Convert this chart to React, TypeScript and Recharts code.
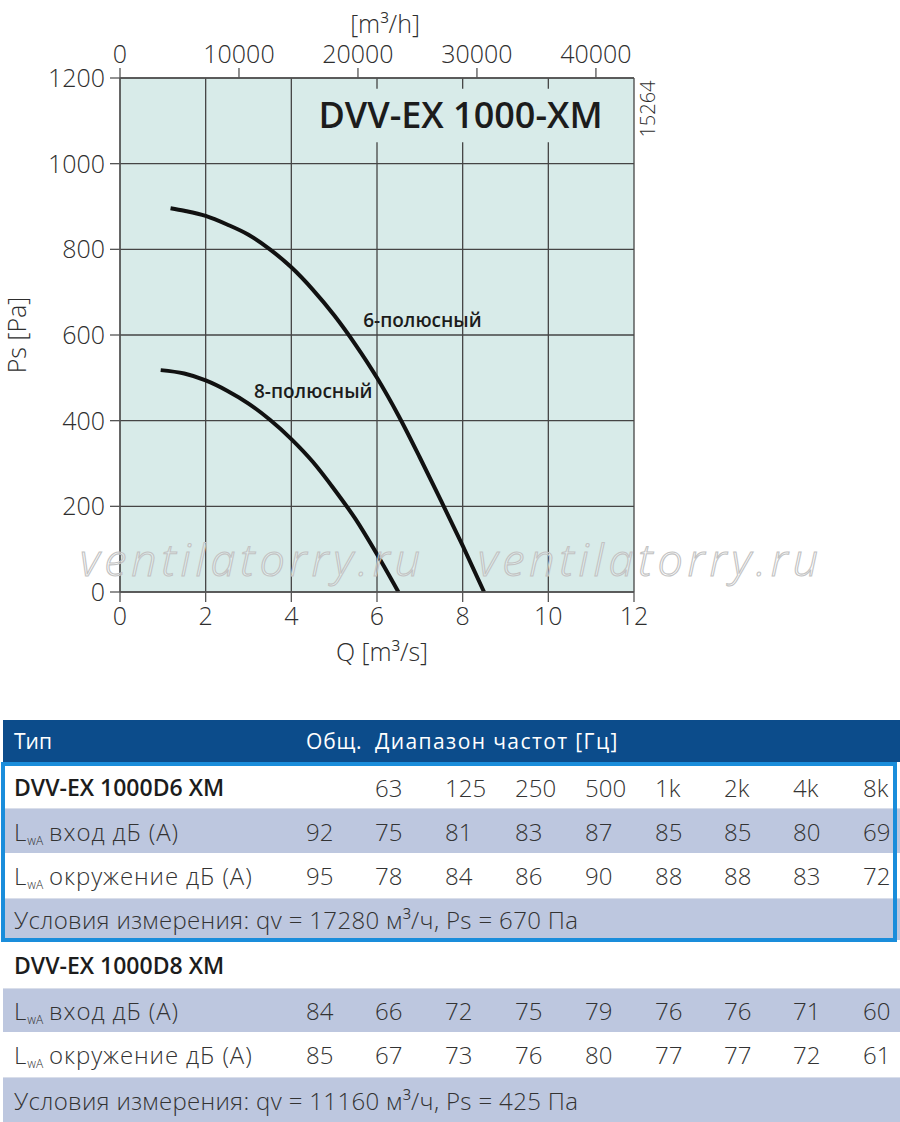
import React from 'react';
import {
  LineChart,
  Line,
  XAxis,
  YAxis,
  CartesianGrid,
  ReferenceArea,
  ReferenceDot,
  Label,
} from 'recharts';

// ---------- data ----------
const pole6 = [
  { q: 1.18, ps: 896 },
  { q: 1.5, ps: 890 },
  { q: 2, ps: 878 },
  { q: 2.5, ps: 858 },
  { q: 3, ps: 834 },
  { q: 3.5, ps: 800 },
  { q: 4, ps: 758 },
  { q: 4.5, ps: 706 },
  { q: 5, ps: 646 },
  { q: 5.5, ps: 577 },
  { q: 6, ps: 500 },
  { q: 6.5, ps: 412 },
  { q: 7, ps: 314 },
  { q: 7.5, ps: 212 },
  { q: 8, ps: 108 },
  { q: 8.5, ps: 0 },
];
const pole8 = [
  { q: 0.95, ps: 518 },
  { q: 1.5, ps: 510 },
  { q: 2, ps: 494 },
  { q: 2.5, ps: 470 },
  { q: 3, ps: 440 },
  { q: 3.5, ps: 402 },
  { q: 4, ps: 357 },
  { q: 4.5, ps: 304 },
  { q: 5, ps: 240 },
  { q: 5.5, ps: 170 },
  { q: 6, ps: 88 },
  { q: 6.5, ps: 0 },
];
const qTicks = [0, 2, 4, 6, 8, 10, 12];
const psTicks = [0, 200, 400, 600, 800, 1000, 1200];
const m3hTicks = [0, 10000, 20000, 30000, 40000];
const SECONDS_PER_HOUR = 3600;

const chartTitle = 'DVV-EX 1000-XM';
const label6 = { q: 7.06, ps: 635, text: '6-полюсный' };
const label8 = { q: 4.51, ps: 469, text: '8-полюсный' };

const bands = ['63', '125', '250', '500', '1k', '2k', '4k', '8k'];
const d6Inlet = [92, 75, 81, 83, 87, 85, 85, 80, 69];
const d6Surround = [95, 78, 84, 86, 90, 88, 88, 83, 72];
const d8Inlet = [84, 66, 72, 75, 79, 76, 76, 71, 60];
const d8Surround = [85, 67, 73, 76, 80, 77, 77, 72, 61];
const d6Name = 'DVV-EX 1000D6 XM';
const d8Name = 'DVV-EX 1000D8 XM';
const d6Cond = 'Условия измерения: qv = 17280 м³/ч, Ps = 670 Па';
const d8Cond = 'Условия измерения: qv = 11160 м³/ч, Ps = 425 Па';

// ---------- styles ----------
const FONT = "'Open Sans', 'Noto Sans', 'DejaVu Sans', sans-serif";
const PLOT_BG = '#d8ebe9';
const GRID = '#454545';
const AXIS = '#555555';
const TICK_TEXT = '#2e2e2e';
const ROW_BG = '#bdc7df';
const HEAD_BG = '#0c4c8b';
const BOX = '#1a8ddb';
const TEXT = '#333333';

const colX = [306, 375, 445, 515, 585, 655, 724, 793, 863];
const topTickPositions = m3hTicks.map((v) => v / SECONDS_PER_HOUR);

const tickStyle = { fontSize: 25, fill: TICK_TEXT, fontFamily: FONT, fontWeight: 300 };

function Row({ top, height, bg, children }: any) {
  return (
    <div
      style={{
        position: 'absolute',
        left: 3,
        top,
        width: 897,
        height,
        background: bg,
        borderTop: bg === ROW_BG ? '1px solid #d9deea' : 'none',
        boxSizing: 'border-box',
      }}
    >
      {children}
    </div>
  );
}

function Cell({ x, children, weight = 300, color = TEXT, size = 24, spacing = 0 }: any) {
  return (
    <div
      style={{
        position: 'absolute',
        left: x - 3,
        top: 0,
        bottom: 0,
        display: 'flex',
        alignItems: 'center',
        fontFamily: FONT,
        fontWeight: weight,
        fontSize: size,
        letterSpacing: spacing,
        color,
        whiteSpace: 'nowrap',
      }}
    >
      {children}
    </div>
  );
}

function Lwa({ rest }: { rest: string }) {
  return (
    <span>
      L
      <span style={{ fontSize: 12, position: 'relative', top: 4, marginRight: 6, letterSpacing: 0 }}>
        wA
      </span>
      {rest}
    </span>
  );
}

function ValueRow({ top, height, bg, label, values }: any) {
  return (
    <Row top={top} height={height} bg={bg}>
      <Cell x={14} spacing={0.9}>
        <Lwa rest={label} />
      </Cell>
      {values.map((v: number, i: number) => (
        <Cell key={i} x={colX[i]}>
          {v}
        </Cell>
      ))}
    </Row>
  );
}

export default function App() {
  return (
    <div
      style={{
        position: 'absolute',
        left: 0,
        top: 0,
        width: 900,
        height: 1122,
        background: '#ffffff',
        overflow: 'hidden',
      }}
    >
      <div style={{ position: 'absolute', left: 0, top: 0 }}>
        <LineChart
          width={900}
          height={700}
          margin={{ top: 38, right: 266, bottom: 68, left: 0 }}
        >
          <CartesianGrid fill={PLOT_BG} fillOpacity={1} stroke={GRID} strokeWidth={1.3} />
          <XAxis
            xAxisId={0}
            type="number"
            dataKey="q"
            domain={[0, 12]}
            ticks={qTicks}
            allowDataOverflow
            height={40}
            tickSize={10}
            tickMargin={5}
            tick={tickStyle}
            axisLine={{ stroke: AXIS, strokeWidth: 1.3 }}
            tickLine={{ stroke: AXIS, strokeWidth: 1.3 }}
          >
            <Label
              content={(p: any) => {
                const vb = p.viewBox;
                return (
                  <text
                    x={vb.x + vb.width / 2 + 5}
                    y={vb.y + 69}
                    textAnchor="middle"
                    fontFamily={FONT}
                    fontWeight={300}
                    fontSize={25}
                    fill={TICK_TEXT}
                  >
                    Q [m³/s]
                  </text>
                );
              }}
            />
          </XAxis>
          <XAxis
            xAxisId="top"
            orientation="top"
            type="number"
            dataKey="q"
            domain={[0, 12]}
            ticks={topTickPositions}
            tickFormatter={(v: number) => String(Math.round(v * SECONDS_PER_HOUR))}
            allowDataOverflow
            height={40}
            tickSize={10}
            tickMargin={5}
            tick={tickStyle}
            axisLine={{ stroke: AXIS, strokeWidth: 1.3 }}
            tickLine={{ stroke: AXIS, strokeWidth: 1.3 }}
          >
            <Label
              content={(p: any) => {
                const vb = p.viewBox;
                return (
                  <text
                    x={vb.x + vb.width / 2 + 8}
                    y={vb.y - 5}
                    textAnchor="middle"
                    fontFamily={FONT}
                    fontWeight={300}
                    fontSize={25}
                    fill={TICK_TEXT}
                  >
                    [m³/h]
                  </text>
                );
              }}
            />
          </XAxis>
          <YAxis
            type="number"
            domain={[0, 1200]}
            ticks={psTicks}
            allowDataOverflow
            width={120}
            tickSize={10}
            tickMargin={5}
            tick={tickStyle}
            axisLine={{ stroke: AXIS, strokeWidth: 1.3 }}
            tickLine={{ stroke: AXIS, strokeWidth: 1.3 }}
          >
            <Label
              content={(p: any) => {
                const vb = p.viewBox;
                const cx = vb.x + 17;
                const cy = vb.y + vb.height / 2;
                return (
                  <text
                    x={cx}
                    y={cy}
                    dy="0.36em"
                    transform={`rotate(-90 ${cx} ${cy})`}
                    textAnchor="middle"
                    fontFamily={FONT}
                    fontWeight={300}
                    fontSize={25}
                    fill={TICK_TEXT}
                  >
                    Ps [Pa]
                  </text>
                );
              }}
            />
          </YAxis>

          <ReferenceArea
            x1={4.1}
            x2={11.8}
            y1={1050}
            y2={1175}
            fill={PLOT_BG}
            fillOpacity={1}
            stroke="none"
            ifOverflow="visible"
          >
            <Label
              value={chartTitle}
              position="center"
              fontFamily={FONT}
              fontWeight={600}
              fontSize={36}
              fill="#1c1c1c"
            />
          </ReferenceArea>

          {/* carrier series for the m³/h axis (same flow, other unit) */}
          <Line
            xAxisId="top"
            data={pole6}
            dataKey="ps"
            type="monotone"
            stroke="none"
            strokeOpacity={0}
            dot={false}
            activeDot={false}
            isAnimationActive={false}
          />
          <Line
            data={pole6}
            dataKey="ps"
            type="monotone"
            stroke="#111111"
            strokeWidth={4}
            dot={false}
            activeDot={false}
            isAnimationActive={false}
          />
          <Line
            data={pole8}
            dataKey="ps"
            type="monotone"
            stroke="#111111"
            strokeWidth={4}
            dot={false}
            activeDot={false}
            isAnimationActive={false}
          />

          <ReferenceDot x={label6.q} y={label6.ps} r={0} fill="none" stroke="none">
            <Label
              value={label6.text}
              position="center"
              fontFamily={FONT}
              fontWeight={600}
              fontSize={19}
              fill="#1c1c1c"
            />
          </ReferenceDot>
          <ReferenceDot x={label8.q} y={label8.ps} r={0} fill="none" stroke="none">
            <Label
              value={label8.text}
              position="center"
              fontFamily={FONT}
              fontWeight={600}
              fontSize={19}
              fill="#1c1c1c"
            />
          </ReferenceDot>
        </LineChart>
      </div>

      {/* watermark + side code */}
      <svg
        width={900}
        height={700}
        style={{ position: 'absolute', left: 0, top: 0, pointerEvents: 'none' }}
      >
        <text
          x={80}
          y={576}
          textLength={340}
          lengthAdjust="spacing"
          fontFamily={FONT}
          fontStyle="italic"
          fontWeight={300}
          fontSize={45}
          fill="rgba(255,255,255,0.3)"
          stroke="#c2c2c2"
          strokeWidth={1.1}
        >
          ventilatorry.ru
        </text>
        <text
          x={478}
          y={576}
          textLength={340}
          lengthAdjust="spacing"
          fontFamily={FONT}
          fontStyle="italic"
          fontWeight={300}
          fontSize={45}
          fill="rgba(255,255,255,0.3)"
          stroke="#c2c2c2"
          strokeWidth={1.1}
        >
          ventilatorry.ru
        </text>
        <text
          x={648}
          y={109}
          dy="0.36em"
          transform="rotate(-90 648 109)"
          textAnchor="middle"
          fontFamily={FONT}
          fontWeight={300}
          fontSize={20}
          fill={TICK_TEXT}
        >
          15264
        </text>
      </svg>

      {/* table */}
      <div
        style={{
          position: 'absolute',
          left: 3,
          top: 720,
          width: 897,
          height: 42,
          background: HEAD_BG,
        }}
      >
        <Cell x={14} weight={400} size={21} color="#ffffff">
          Тип
        </Cell>
        <Cell x={306} weight={400} size={21} spacing={0.8} color="#ffffff">
          Общ.
        </Cell>
        <Cell x={375} weight={400} size={21} spacing={1.4} color="#ffffff">
          Диапазон частот [Гц]
        </Cell>
      </div>

      <Row top={766} height={42} bg="#ffffff">
        <Cell x={14} weight={600} size={23} color="#1c1c1c">
          {d6Name}
        </Cell>
        {bands.map((b, i) => (
          <Cell key={b} x={colX[i + 1]}>
            {b}
          </Cell>
        ))}
      </Row>
      <ValueRow top={808} height={45} bg={ROW_BG} label="вход дБ (А)" values={d6Inlet} />
      <ValueRow top={853} height={45} bg="#ffffff" label="окружение дБ (А)" values={d6Surround} />
      <Row top={898} height={42} bg={ROW_BG}>
        <Cell x={14} spacing={0.35}>
          <span>{d6Cond}</span>
        </Cell>
      </Row>

      <Row top={942} height={46} bg="#ffffff">
        <Cell x={14} weight={600} size={23} color="#1c1c1c">
          {d8Name}
        </Cell>
      </Row>
      <ValueRow top={988} height={44} bg={ROW_BG} label="вход дБ (А)" values={d8Inlet} />
      <ValueRow top={1032} height={45} bg="#ffffff" label="окружение дБ (А)" values={d8Surround} />
      <Row top={1077} height={45} bg={ROW_BG}>
        <Cell x={14} spacing={0.35}>
          <span>{d8Cond}</span>
        </Cell>
      </Row>

      <div
        style={{
          position: 'absolute',
          left: 1,
          top: 762,
          width: 896,
          height: 180,
          border: `4px solid ${BOX}`,
          boxSizing: 'border-box',
          pointerEvents: 'none',
        }}
      />
    </div>
  );
}
